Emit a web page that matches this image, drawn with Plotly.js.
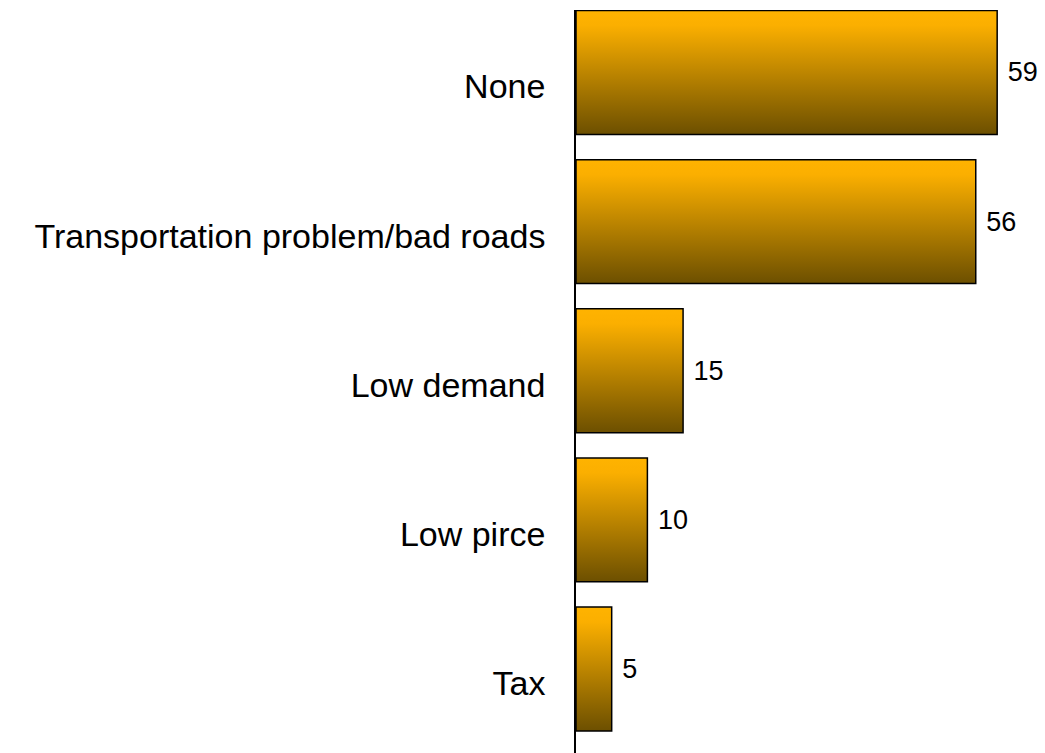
<!DOCTYPE html>
<html>
<head>
<meta charset="utf-8">
<script src="https://cdn.plot.ly/plotly-3.0.1.min.js"></script>
<style>
  html, body { margin: 0; padding: 0; background: #ffffff; }
  #chart { width: 1045px; height: 753px; }
</style>
</head>
<body>
<div id="chart"></div>
<script>
const categories = ["None", "Transportation problem/bad roads", "Low demand", "Low pirce", "Tax"];
const values = [59, 56, 15, 10, 5];

const trace = {
  type: "bar",
  orientation: "h",
  y: categories,
  x: values,
  text: values.map(String),
  texttemplate: "\u00a0%{x}",
  textposition: "outside",
  cliponaxis: false,
  textfont: { family: "Liberation Sans, Arial, sans-serif", size: 27, color: "#000000" },
  marker: { color: "#D89A00", line: { color: "#000000", width: 1.5 } },
  hoverinfo: "none"
};

const layout = {
  width: 1045,
  height: 753,
  margin: { l: 576, r: 0, t: 10, b: 0, pad: 0 },
  paper_bgcolor: "#ffffff",
  plot_bgcolor: "#ffffff",
  showlegend: false,
  bargap: 0.169,
  font: { family: "Liberation Sans, Arial, sans-serif", color: "#000000" },
  xaxis: {
    range: [0, 65.7],
    visible: false,
    showgrid: false,
    zeroline: false,
    fixedrange: true
  },
  yaxis: {
    type: "category",
    range: [4.563, -0.419],
    showgrid: false,
    zeroline: false,
    showline: true,
    linecolor: "#000000",
    linewidth: 1.8,
    ticks: "",
    ticklabelstandoff: 22,
    ticklabelshift: -14,
    tickfont: { family: "Liberation Sans, Arial, sans-serif", size: 34, color: "#000000" },
    fixedrange: true
  }
};

function applyGradient(gd) {
  const svg = gd.querySelector("svg.main-svg");
  if (!svg) return;
  let defs = svg.querySelector("defs");
  if (!defs) {
    defs = document.createElementNS("http://www.w3.org/2000/svg", "defs");
    svg.insertBefore(defs, svg.firstChild);
  }
  if (!svg.querySelector("#barGrad")) {
    const ns = "http://www.w3.org/2000/svg";
    const g = document.createElementNS(ns, "linearGradient");
    g.setAttribute("id", "barGrad");
    g.setAttribute("x1", "0"); g.setAttribute("y1", "0");
    g.setAttribute("x2", "0"); g.setAttribute("y2", "1");
    const stops = [["0", "#FFB300"], ["0.12", "#FBAF00"], ["1", "#6C4F00"]];
    stops.forEach(([o, c]) => {
      const s = document.createElementNS(ns, "stop");
      s.setAttribute("offset", o);
      s.setAttribute("stop-color", c);
      g.appendChild(s);
    });
    defs.appendChild(g);
  }
  gd.querySelectorAll(".bars .point path").forEach(p => {
    p.style.fill = "url(#barGrad)";
    p.style.fillOpacity = "1";
  });
}

const gd = document.getElementById("chart");
Plotly.newPlot(gd, [trace], layout, { displayModeBar: false, staticPlot: true }).then(() => {
  applyGradient(gd);
  gd.on && gd.on("plotly_afterplot", () => applyGradient(gd));
});
</script>
</body>
</html>
